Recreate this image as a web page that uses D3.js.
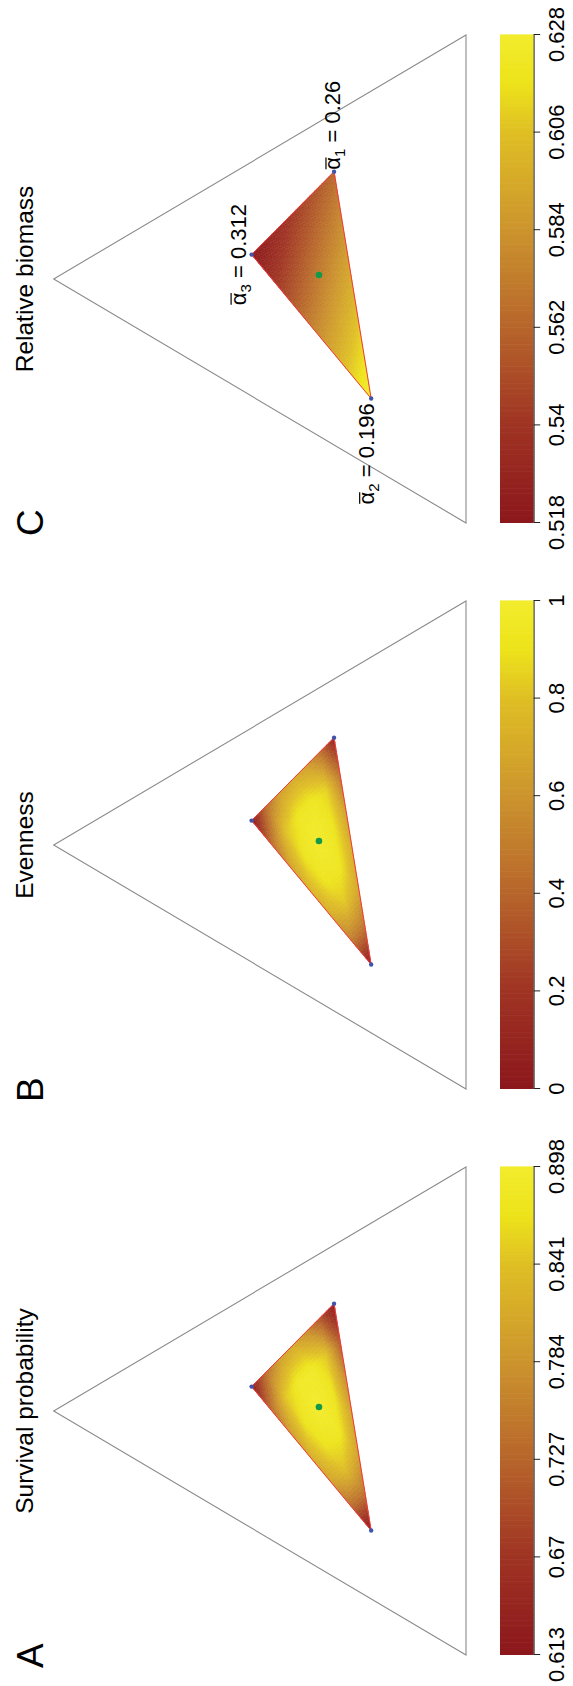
<!DOCTYPE html>
<html>
<head>
<meta charset="utf-8">
<script src="https://cdn.jsdelivr.net/npm/d3@7"></script>
<style>
  html, body { margin: 0; padding: 0; background: #fff; }
  text { font-family: "Liberation Sans", Arial, Helvetica, sans-serif; white-space: pre; }
</style>
</head>
<body>
<script>
'use strict';

// ---- data ----
var panelLetters = ["A", "B", "C"];
var panelTitles = ["Survival probability", "Evenness", "Relative biomass"];

// corners of the feasible region, ternary (left, right, top)
var cornerNames = ["1", "2", "3"];
var cornerTernary = [[0.12, 0.56, 0.32], [0.63, 0.14, 0.23], [0.19, 0.29, 0.52]];
var alphaBar = ["0.26", "0.196", "0.312"];

// values on a grid inside the region: row i = weight of corner 1 (i/6),
// column j = weight of corner 2 (j/6), rest goes to corner 3
var survivalValues = [
  [0.625, 0.735, 0.795, 0.815, 0.800, 0.735, 0.613],
  [0.735, 0.845, 0.875, 0.870, 0.840, 0.745],
  [0.795, 0.885, 0.895, 0.880, 0.800],
  [0.810, 0.885, 0.875, 0.805],
  [0.775, 0.845, 0.775],
  [0.705, 0.715],
  [0.618]
];
var evennessValues = [
  [0.02, 0.42, 0.66, 0.74, 0.70, 0.50, 0.05],
  [0.42, 0.80, 0.92, 0.92, 0.82, 0.46],
  [0.64, 0.93, 0.98, 0.93, 0.68],
  [0.70, 0.94, 0.92, 0.72],
  [0.64, 0.85, 0.66],
  [0.44, 0.47],
  [0.10]
];
var biomassValues = [
  [0.518, 0.536, 0.554, 0.573, 0.591, 0.610, 0.628],
  [0.526, 0.544, 0.562, 0.581, 0.599, 0.617],
  [0.534, 0.552, 0.571, 0.589, 0.607],
  [0.542, 0.560, 0.579, 0.597],
  [0.549, 0.568, 0.587],
  [0.556, 0.576],
  [0.563]
];

var survivalTicks = ["0.613", "0.67", "0.727", "0.784", "0.841", "0.898"];
var evennessTicks = ["0", "0.2", "0.4", "0.6", "0.8", "1"];
var biomassTicks = ["0.518", "0.54", "0.562", "0.584", "0.606", "0.628"];

var paletteStops = [0, 0.2, 0.4, 0.6, 0.8, 0.9, 1];
var paletteColors = ["#8c171c", "#9f3323", "#b7652b", "#cc942d", "#dfbf24", "#ede31a", "#f2ec2c"];

var panelValues = [survivalValues, evennessValues, biomassValues];
var panelTicks = [survivalTicks, evennessTicks, biomassTicks];

// ---- layout ----
var W = 573, H = 1686;
var side = 488, apexV = 53.7, baseV = 466;
var firstApexU = 275, panelStep = 566;
var barTop = 500, barBottom = 533.6;
var N = 6, S = 8, M = N * S;

var svg = d3.select("body").append("svg")
  .attr("width", W).attr("height", H);
svg.append("rect").attr("width", W).attr("height", H).attr("fill", "#fff");

// landscape figure turned a quarter to the left
var root = svg.append("g").attr("transform", "translate(0," + H + ") rotate(-90)");

function coarseValue(vals, x, y) {
  var i0 = Math.floor(x), j0 = Math.floor(y);
  var fx = x - i0, fy = y - j0;
  if (fx < 1e-9 && fy < 1e-9) return vals[i0][j0];
  if (fx + fy <= 1) {
    var v = vals[i0][j0] * (1 - fx - fy);
    if (fx > 0) v += vals[i0 + 1][j0] * fx;
    if (fy > 0) v += vals[i0][j0 + 1] * fy;
    return v;
  }
  return vals[i0 + 1][j0 + 1] * (fx + fy - 1) +
         vals[i0 + 1][j0] * (1 - fy) +
         vals[i0][j0 + 1] * (1 - fx);
}

panelLetters.forEach(function(letter, p) {
  var apexU = firstApexU + p * panelStep;
  var left = apexU - side / 2;
  var vals = panelValues[p];
  var ticks = panelTicks[p];
  var d0 = +ticks[0], d1 = +ticks[ticks.length - 1];

  var uScale = d3.scaleLinear().domain([0, 1]).range([left, left + side]);
  var vScale = d3.scaleLinear().domain([0, 1]).range([baseV, apexV]);
  function project(c) { return [uScale(c[1] + c[2] / 2), vScale(c[2])]; }

  var color = d3.scaleLinear()
    .domain(paletteStops.map(function(s) { return d0 + s * (d1 - d0); }))
    .range(paletteColors)
    .interpolate(d3.interpolateRgb)
    .clamp(true);

  var gp = root.append("g");

  gp.append("text")
    .attr("x", left - 13).attr("y", 43.1)
    .attr("font-size", 37)
    .text(letter);

  gp.append("text")
    .attr("x", apexU).attr("y", 33.3)
    .attr("text-anchor", "middle")
    .attr("font-size", 24.5)
    .text(panelTitles[p]);

  // outer simplex
  var outer = [[1, 0, 0], [0, 1, 0], [0, 0, 1]].map(project);
  gp.append("path")
    .attr("d", d3.line()(outer) + "Z")
    .attr("fill", "none")
    .attr("stroke", "#8a8a8a")
    .attr("stroke-width", 1.1);

  // inner region, filled from the value grid
  var V = cornerTernary.map(project);
  function pos(a, b) {
    var w1 = a / M, w2 = b / M, w3 = 1 - w1 - w2;
    return [w1 * V[0][0] + w2 * V[1][0] + w3 * V[2][0],
            w1 * V[0][1] + w2 * V[1][1] + w3 * V[2][1]];
  }
  var tris = [];
  for (var a = 0; a < M; a++) {
    for (var b = 0; a + b < M; b++) {
      tris.push([[a, b], [a + 1, b], [a, b + 1]]);
      if (a + b + 2 <= M) tris.push([[a + 1, b], [a, b + 1], [a + 1, b + 1]]);
    }
  }
  function triColor(t) {
    return color(d3.mean(t, function(n) { return coarseValue(vals, n[0] / S, n[1] / S); }));
  }
  gp.append("g").selectAll("path")
    .data(tris)
    .join("path")
    .attr("d", function(t) { return d3.line()(t.map(function(n) { return pos(n[0], n[1]); })) + "Z"; })
    .attr("fill", triColor)
    .attr("stroke", triColor)
    .attr("stroke-width", 0.5);

  gp.append("path")
    .attr("d", d3.line()(V) + "Z")
    .attr("fill", "none")
    .attr("stroke", "#f23a3a")
    .attr("stroke-width", 1);

  gp.selectAll("circle.corner")
    .data(V)
    .join("circle")
    .attr("class", "corner")
    .attr("cx", function(d) { return d[0]; })
    .attr("cy", function(d) { return d[1]; })
    .attr("r", 2.2)
    .attr("fill", "#3f55ad");

  var centre = [d3.mean(V, function(d) { return d[0]; }), d3.mean(V, function(d) { return d[1]; })];
  gp.append("circle")
    .attr("cx", centre[0]).attr("cy", centre[1])
    .attr("r", 3.3)
    .attr("fill", "#139a48");

  // corner labels on the biomass panel
  if (p === 2) {
    var place = [
      { anchor: "start", du: 2, dv: 6.4 },
      { anchor: "end", du: -4.6, dv: 3 },
      { anchor: "middle", du: 0, dv: -6 }
    ];
    V.forEach(function(d, k) {
      var y = d[1] + place[k].dv;
      var t = gp.append("text")
        .attr("x", d[0] + place[k].du)
        .attr("y", y)
        .attr("text-anchor", place[k].anchor)
        .attr("font-size", 22);
      t.append("tspan").text("\u03b1");
      t.append("tspan").attr("font-size", 15).attr("dy", 5).text(cornerNames[k]);
      t.append("tspan").attr("dy", -5).text(" = " + alphaBar[k]);
      // bar over alpha
      var ext = t.node().getExtentOfChar(0);
      gp.append("line")
        .attr("x1", ext.x + 0.5).attr("x2", ext.x + ext.width - 0.5)
        .attr("y1", y - 14.5).attr("y2", y - 14.5)
        .attr("stroke", "#000")
        .attr("stroke-width", 1.2);
    });
  }

  // colour bar
  var barScale = d3.scaleLinear().domain([d0, d1]).range([left, left + side]);
  var slices = d3.range(200);
  gp.append("g").selectAll("rect")
    .data(slices)
    .join("rect")
    .attr("x", function(k) { return barScale(d0 + k / 200 * (d1 - d0)); })
    .attr("y", barTop)
    .attr("width", side / 200 + 0.6)
    .attr("height", barBottom - barTop)
    .attr("fill", function(k) { return color(d0 + (k + 0.5) / 200 * (d1 - d0)); });

  var axis = d3.axisBottom(barScale)
    .tickValues(ticks.map(Number))
    .tickFormat(function(d, i) { return ticks[i]; })
    .tickSize(6.6)
    .tickSizeOuter(0)
    .tickPadding(7.8);
  var ga = gp.append("g")
    .attr("transform", "translate(0," + barBottom + ")")
    .call(axis);
  ga.attr("font-size", 22).attr("font-family", null);
  ga.selectAll("text").attr("fill", "#000");
  ga.selectAll("line, path").attr("stroke", "#222").attr("stroke-width", 1);
});
</script>
</body>
</html>
